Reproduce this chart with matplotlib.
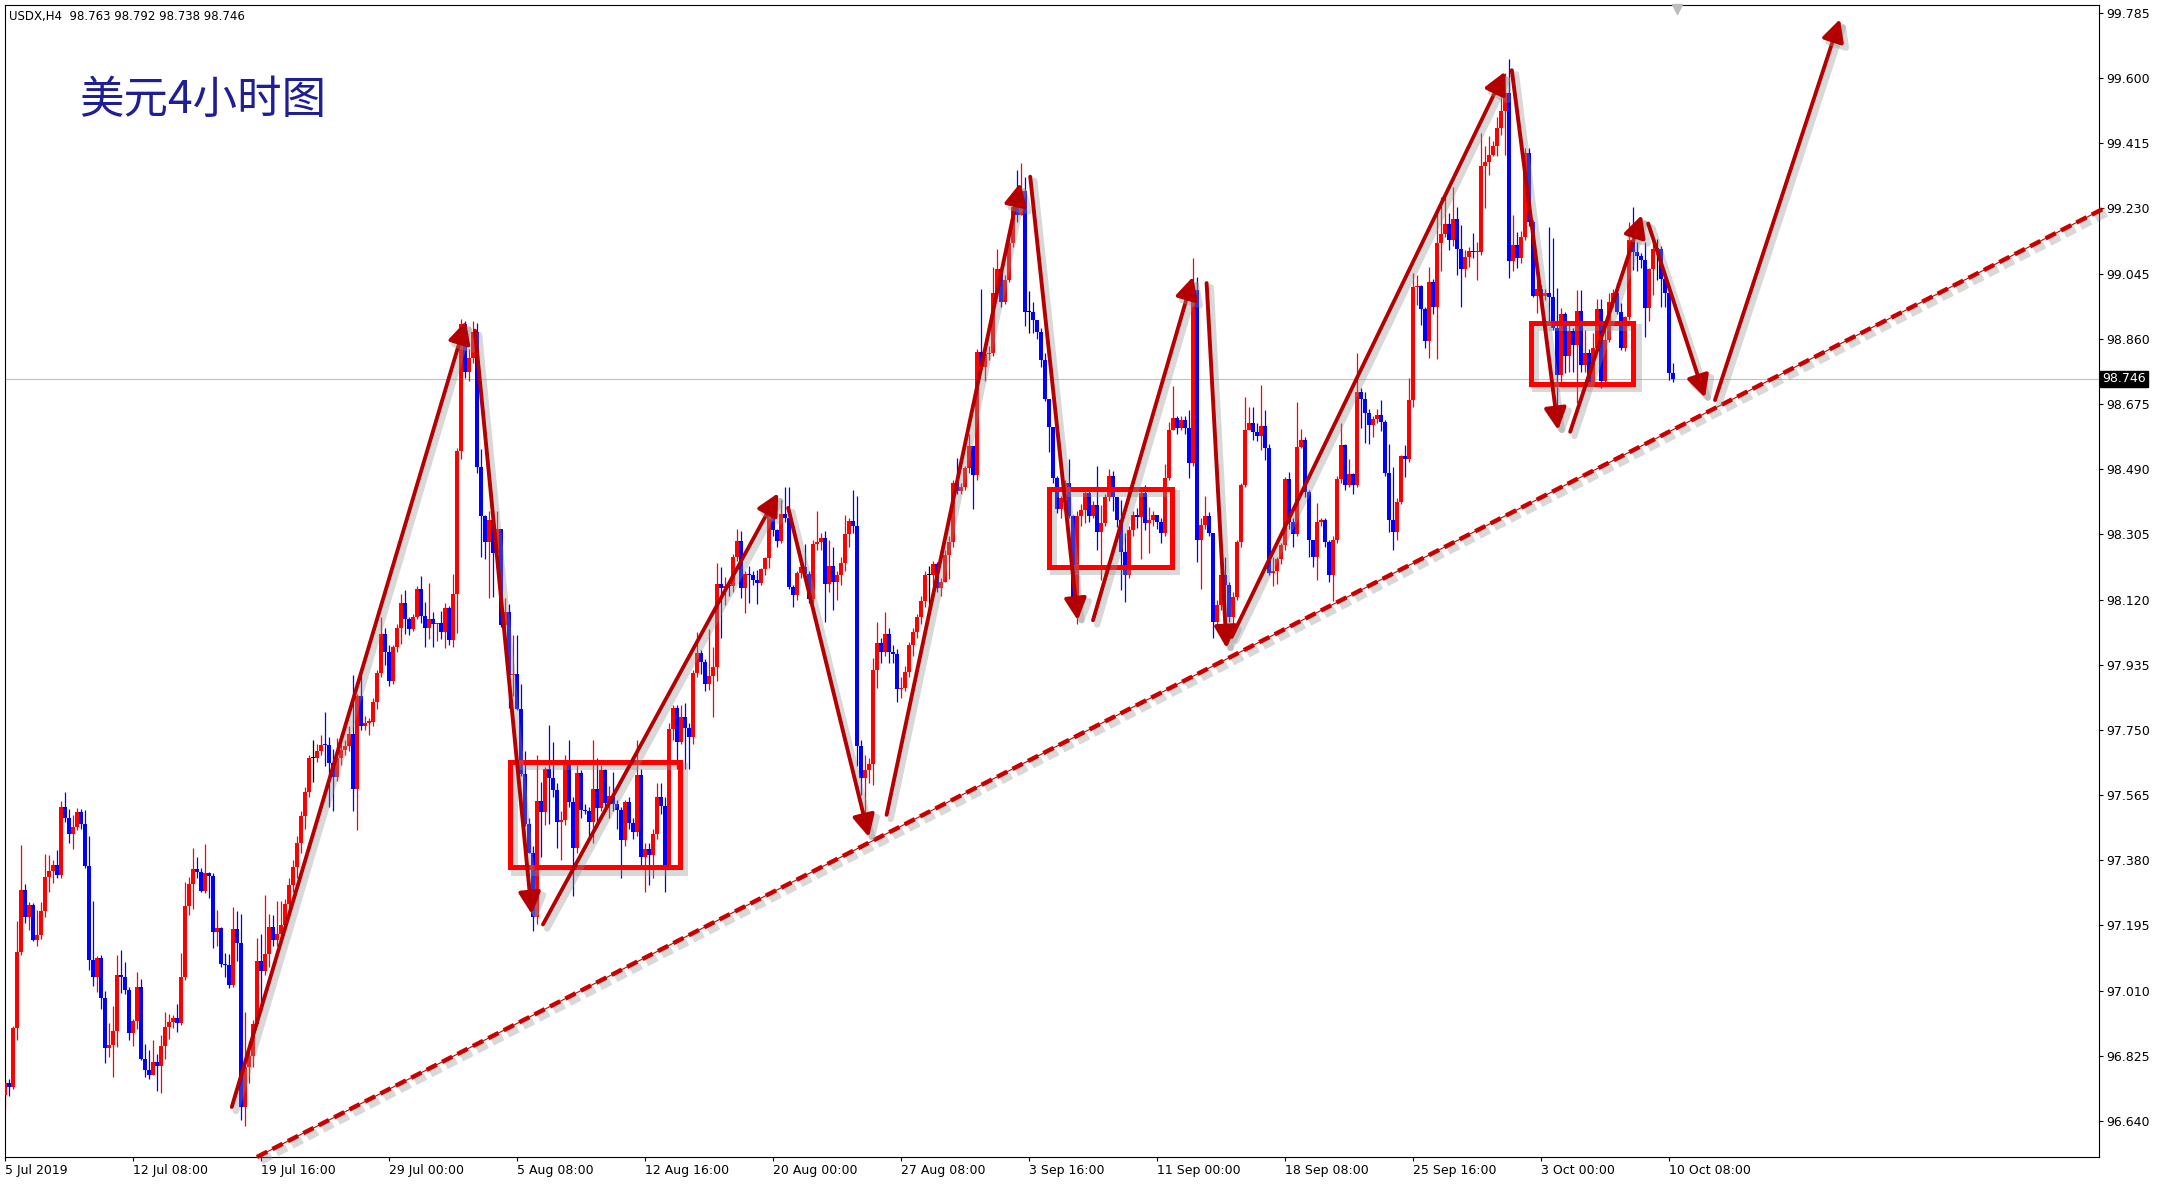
import matplotlib
matplotlib.use('Agg')
import matplotlib.pyplot as plt
import matplotlib.patches as patches
import matplotlib.patheffects as pe
import numpy as np

# USDX H4 bars, 5 Jul 2019 00:00 -> 10 Oct 2019 12:00 (bar index = 4h step, weekends skipped)
first_open = 96.714

closes = [
    96.749, 96.737, 96.903, 97.121, 97.295, 97.220, 97.253, 97.155, 97.168, 97.236,
    97.332, 97.350, 97.366, 97.338, 97.532, 97.499, 97.456, 97.475, 97.516, 97.482,
    97.364, 97.097, 97.048, 97.102, 96.988, 96.846, 96.856, 96.896, 97.054, 97.050,
    97.012, 96.891, 96.925, 97.021, 96.815, 96.786, 96.770, 96.808, 96.796, 96.853,
    96.906, 96.920, 96.933, 96.919, 97.048, 97.250, 97.314, 97.354, 97.347, 97.294,
    97.345, 97.335, 97.177, 97.187, 97.087, 97.083, 97.026, 97.184, 97.144, 96.679,
    96.792, 96.825, 96.915, 97.095, 97.065, 97.115, 97.190, 97.155, 97.170, 97.197,
    97.257, 97.310, 97.360, 97.430, 97.505, 97.573, 97.671, 97.671, 97.690, 97.708,
    97.707, 97.656, 97.615, 97.671, 97.693, 97.705, 97.738, 97.581, 97.846, 97.761,
    97.771, 97.773, 97.829, 97.911, 98.021, 97.971, 97.888, 97.986, 98.039, 98.111,
    98.066, 98.036, 98.069, 98.151, 98.072, 98.039, 98.064, 98.051, 98.054, 98.027,
    98.095, 98.006, 98.136, 98.542, 98.902, 98.767, 98.805, 98.880, 98.497, 98.358,
    98.284, 98.347, 98.252, 98.321, 98.049, 98.084, 97.907, 97.910, 97.809, 97.626,
    97.482, 97.401, 97.219, 97.548, 97.517, 97.638, 97.613, 97.580, 97.490, 97.495,
    97.650, 97.545, 97.416, 97.627, 97.522, 97.520, 97.490, 97.582, 97.528, 97.636,
    97.543, 97.563, 97.540, 97.522, 97.439, 97.545, 97.487, 97.459, 97.621, 97.389,
    97.412, 97.395, 97.455, 97.559, 97.534, 97.366, 97.752, 97.812, 97.717, 97.788,
    97.755, 97.731, 97.911, 97.967, 97.944, 97.880, 97.903, 97.928, 98.164, 98.152,
    98.158, 98.157, 98.240, 98.287, 98.154, 98.192, 98.190, 98.174, 98.168, 98.206,
    98.237, 98.360, 98.317, 98.287, 98.363, 98.350, 98.155, 98.133, 98.194, 98.211,
    98.192, 98.121, 98.278, 98.282, 98.296, 98.164, 98.215, 98.171, 98.190, 98.223,
    98.306, 98.343, 98.329, 97.704, 97.613, 97.636, 97.653, 97.920, 97.998, 97.971,
    98.021, 97.970, 97.965, 97.865, 97.870, 97.915, 97.990, 98.027, 98.070, 98.115,
    98.190, 98.190, 98.220, 98.152, 98.171, 98.246, 98.283, 98.452, 98.427, 98.440,
    98.493, 98.556, 98.473, 98.823, 98.780, 98.818, 98.820, 98.989, 99.058, 98.964,
    99.027, 99.133, 99.233, 99.210, 99.280, 98.935, 98.935, 98.914, 98.880, 98.800,
    98.690, 98.610, 98.465, 98.377, 98.408, 98.452, 98.358, 98.115, 98.357, 98.374,
    98.421, 98.357, 98.388, 98.312, 98.336, 98.412, 98.470, 98.410, 98.347, 98.256,
    98.189, 98.317, 98.360, 98.355, 98.421, 98.336, 98.347, 98.360, 98.341, 98.308,
    98.464, 98.601, 98.634, 98.606, 98.629, 98.606, 98.508, 98.998, 98.289, 98.331,
    98.357, 98.308, 98.057, 98.104, 98.189, 98.161, 98.071, 98.128, 98.284, 98.445,
    98.601, 98.621, 98.596, 98.584, 98.612, 98.549, 98.194, 98.201, 98.236, 98.274,
    98.463, 98.341, 98.307, 98.553, 98.572, 98.426, 98.288, 98.241, 98.340, 98.345,
    98.284, 98.189, 98.288, 98.463, 98.558, 98.445, 98.477, 98.445, 98.709, 98.690,
    98.650, 98.615, 98.632, 98.644, 98.625, 98.480, 98.346, 98.313, 98.398, 98.526,
    98.518, 98.686, 99.008, 99.010, 98.944, 98.855, 99.022, 98.951, 99.133, 99.157,
    99.186, 99.140, 99.199, 99.114, 99.057, 99.091, 99.110, 99.106, 99.107, 99.350,
    99.363, 99.382, 99.407, 99.457, 99.507, 99.558, 99.082, 99.126, 99.089, 99.150,
    99.386, 99.190, 98.982, 99.000, 98.980, 98.990, 98.978, 98.890, 98.757, 98.930,
    98.811, 98.883, 98.843, 98.940, 98.786, 98.819, 98.738, 98.833, 98.944, 98.739,
    98.857, 98.965, 98.990, 98.937, 98.833, 98.923, 99.140, 99.107, 99.095, 99.084,
    98.946, 99.057, 99.114, 99.114, 99.029, 98.990, 98.763, 98.746,
]

highs = [
    96.760, 96.759, 96.910, 97.208, 97.423, 97.314, 97.262, 97.260, 97.239, 97.262,
    97.398, 97.395, 97.382, 97.409, 97.548, 97.573, 97.525, 97.508, 97.527, 97.525,
    97.522, 97.449, 97.264, 97.108, 97.110, 97.009, 96.919, 96.966, 97.111, 97.125,
    97.092, 97.020, 96.930, 97.064, 97.043, 96.860, 96.843, 96.870, 96.830, 96.884,
    96.950, 96.945, 96.940, 96.972, 97.118, 97.319, 97.333, 97.414, 97.388, 97.357,
    97.426, 97.347, 97.343, 97.239, 97.190, 97.116, 97.114, 97.248, 97.236, 97.227,
    96.950, 96.867, 96.927, 97.160, 97.171, 97.281, 97.227, 97.224, 97.265, 97.265,
    97.270, 97.330, 97.380, 97.450, 97.520, 97.588, 97.680, 97.720, 97.710, 97.735,
    97.801, 97.729, 97.696, 97.726, 97.710, 97.720, 97.760, 97.906, 97.851, 97.906,
    97.790, 97.783, 97.840, 97.920, 98.069, 98.039, 97.991, 97.990, 98.050, 98.136,
    98.147, 98.070, 98.080, 98.159, 98.186, 98.114, 98.166, 98.084, 98.054, 98.087,
    98.111, 98.102, 98.192, 98.550, 98.917, 98.910, 98.830, 98.910, 98.906, 98.547,
    98.360, 98.370, 98.327, 98.370, 98.321, 98.125, 98.107, 98.020, 98.020, 97.881,
    97.690, 97.500, 97.420, 97.679, 97.601, 97.646, 97.765, 97.716, 97.600, 97.520,
    97.680, 97.722, 97.560, 97.650, 97.636, 97.540, 97.530, 97.720, 97.670, 97.650,
    97.640, 97.590, 97.630, 97.550, 97.530, 97.550, 97.560, 97.500, 97.720, 97.640,
    97.430, 97.430, 97.470, 97.600, 97.600, 97.560, 97.770, 97.820, 97.820, 97.821,
    97.826, 97.770, 97.920, 98.029, 97.976, 97.950, 98.036, 97.984, 98.223, 98.213,
    98.185, 98.170, 98.250, 98.319, 98.315, 98.200, 98.215, 98.200, 98.204, 98.210,
    98.240, 98.374, 98.360, 98.320, 98.402, 98.438, 98.440, 98.160, 98.200, 98.220,
    98.278, 98.200, 98.290, 98.370, 98.310, 98.315, 98.288, 98.270, 98.200, 98.240,
    98.360, 98.350, 98.431, 98.414, 97.720, 97.680, 97.670, 97.953, 98.057, 98.010,
    98.084, 98.040, 97.990, 97.980, 97.900, 97.930, 98.000, 98.040, 98.080, 98.130,
    98.200, 98.215, 98.230, 98.226, 98.180, 98.260, 98.300, 98.460, 98.521, 98.450,
    98.500, 98.590, 98.556, 98.830, 99.002, 98.840, 98.840, 99.064, 99.114, 99.064,
    99.040, 99.145, 99.270, 99.339, 99.360, 99.320, 98.995, 98.964, 98.910, 98.890,
    98.820, 98.690, 98.610, 98.470, 98.415, 98.460, 98.520, 98.360, 98.370, 98.390,
    98.430, 98.430, 98.400, 98.499, 98.388, 98.420, 98.489, 98.485, 98.410, 98.402,
    98.308, 98.330, 98.370, 98.379, 98.440, 98.445, 98.383, 98.370, 98.360, 98.350,
    98.504, 98.624, 98.726, 98.640, 98.640, 98.640, 98.657, 99.088, 99.036, 98.350,
    98.414, 98.369, 98.310, 98.120, 98.200, 98.241, 98.170, 98.140, 98.290, 98.450,
    98.695, 98.667, 98.667, 98.620, 98.728, 98.659, 98.560, 98.241, 98.241, 98.280,
    98.468, 98.482, 98.350, 98.681, 98.605, 98.580, 98.430, 98.290, 98.394, 98.350,
    98.350, 98.290, 98.300, 98.470, 98.620, 98.560, 98.520, 98.480, 98.820, 98.720,
    98.710, 98.660, 98.640, 98.660, 98.686, 98.630, 98.560, 98.497, 98.407, 98.530,
    98.559, 98.748, 99.046, 99.041, 99.013, 98.950, 99.065, 99.030, 99.221, 99.263,
    99.263, 99.216, 99.292, 99.235, 99.183, 99.112, 99.120, 99.159, 99.136, 99.443,
    99.407, 99.434, 99.420, 99.490, 99.547, 99.613, 99.653, 99.211, 99.164, 99.167,
    99.400, 99.400, 99.197, 99.032, 99.013, 99.000, 99.178, 99.145, 99.003, 98.946,
    98.937, 98.902, 98.890, 98.997, 98.997, 98.885, 98.830, 98.876, 98.972, 98.972,
    98.894, 98.991, 99.000, 99.017, 98.961, 98.925, 99.192, 99.235, 99.136, 99.103,
    99.136, 99.060, 99.133, 99.142, 99.122, 99.036, 98.999, 98.792,
]

lows = [
    96.676, 96.711, 96.730, 96.870, 97.110, 97.203, 97.182, 97.150, 97.137, 97.158,
    97.220, 97.291, 97.316, 97.330, 97.330, 97.490, 97.430, 97.411, 97.466, 97.468,
    97.357, 97.068, 97.024, 97.007, 96.957, 96.805, 96.822, 96.766, 96.851, 97.002,
    97.000, 96.870, 96.853, 96.900, 96.813, 96.766, 96.759, 96.770, 96.726, 96.720,
    96.815, 96.874, 96.903, 96.893, 96.912, 97.040, 97.225, 97.243, 97.330, 97.291,
    97.286, 97.272, 97.132, 97.137, 97.078, 97.049, 97.019, 97.021, 97.094, 96.642,
    96.627, 96.747, 96.792, 96.910, 96.949, 97.055, 97.076, 97.137, 97.137, 97.166,
    97.190, 97.240, 97.290, 97.330, 97.400, 97.468, 97.560, 97.603, 97.660, 97.678,
    97.648, 97.531, 97.520, 97.606, 97.650, 97.680, 97.690, 97.520, 97.465, 97.750,
    97.750, 97.735, 97.760, 97.810, 97.900, 97.934, 97.876, 97.880, 97.970, 97.994,
    98.021, 98.020, 98.030, 98.064, 98.054, 97.986, 98.009, 97.986, 98.001, 98.009,
    97.982, 97.991, 97.986, 98.024, 98.520, 98.750, 98.740, 98.790, 98.480, 98.240,
    98.235, 98.125, 98.127, 98.210, 98.043, 98.043, 97.812, 97.847, 97.806, 97.620,
    97.476, 97.400, 97.180, 97.200, 97.389, 97.480, 97.482, 97.560, 97.415, 97.380,
    97.480, 97.530, 97.279, 97.400, 97.500, 97.510, 97.450, 97.430, 97.480, 97.520,
    97.520, 97.500, 97.520, 97.470, 97.330, 97.420, 97.470, 97.440, 97.450, 97.360,
    97.290, 97.310, 97.330, 97.440, 97.510, 97.290, 97.360, 97.720, 97.638, 97.710,
    97.638, 97.640, 97.710, 97.901, 97.910, 97.860, 97.863, 97.788, 97.890, 98.010,
    98.105, 98.130, 98.140, 98.230, 98.123, 98.081, 98.109, 98.160, 98.107, 98.160,
    98.190, 98.209, 98.300, 98.270, 98.280, 98.340, 98.150, 98.098, 98.120, 98.180,
    98.180, 98.110, 98.110, 98.260, 98.260, 98.055, 98.140, 98.090, 98.120, 98.160,
    98.200, 98.270, 98.310, 97.648, 97.565, 97.485, 97.600, 97.594, 97.868, 97.940,
    97.960, 97.940, 97.940, 97.830, 97.840, 97.860, 97.900, 97.960, 98.010, 98.050,
    98.100, 98.096, 98.160, 98.140, 98.130, 98.170, 98.177, 98.270, 98.420, 98.420,
    98.430, 98.480, 98.377, 98.460, 98.770, 98.740, 98.800, 98.810, 98.980, 98.950,
    98.960, 99.020, 99.120, 99.190, 99.210, 98.895, 98.877, 98.877, 98.860, 98.780,
    98.683, 98.540, 98.450, 98.365, 98.350, 98.380, 98.350, 98.100, 98.050, 98.330,
    98.336, 98.340, 98.350, 98.260, 98.175, 98.330, 98.400, 98.372, 98.326, 98.147,
    98.114, 98.180, 98.300, 98.322, 98.234, 98.317, 98.251, 98.330, 98.320, 98.280,
    98.300, 98.460, 98.606, 98.590, 98.600, 98.590, 98.464, 98.500, 98.227, 98.151,
    98.320, 98.300, 98.010, 98.050, 98.090, 98.043, 98.055, 98.050, 98.120, 98.270,
    98.440, 98.600, 98.572, 98.570, 98.544, 98.515, 98.189, 98.158, 98.165, 98.220,
    98.260, 98.320, 98.270, 98.300, 98.550, 98.410, 98.240, 98.213, 98.175, 98.330,
    98.270, 98.170, 98.115, 98.280, 98.450, 98.430, 98.440, 98.420, 98.440, 98.606,
    98.564, 98.560, 98.580, 98.620, 98.597, 98.470, 98.313, 98.261, 98.290, 98.390,
    98.469, 98.510, 98.667, 98.956, 98.899, 98.833, 98.805, 98.930, 98.802, 99.051,
    99.150, 99.112, 99.122, 99.041, 98.951, 99.036, 99.065, 99.090, 99.027, 99.098,
    99.230, 99.325, 99.380, 99.379, 99.438, 99.382, 99.032, 99.051, 99.060, 99.074,
    99.140, 99.180, 98.978, 98.932, 98.942, 98.970, 98.902, 98.885, 98.630, 98.738,
    98.762, 98.767, 98.767, 98.677, 98.767, 98.767, 98.738, 98.738, 98.820, 98.719,
    98.730, 98.850, 98.950, 98.930, 98.828, 98.824, 98.913, 99.055, 99.051, 99.060,
    98.866, 98.909, 98.984, 99.027, 98.951, 98.951, 98.743, 98.738,
]

tick_bars = [0, 32, 64, 96, 128, 160, 192, 224, 256, 288, 320, 352, 384, 416]
tick_labels = ['5 Jul 2019', '12 Jul 08:00', '19 Jul 16:00', '29 Jul 00:00',
               '5 Aug 08:00', '12 Aug 16:00', '20 Aug 00:00', '27 Aug 08:00',
               '3 Sep 16:00', '11 Sep 00:00', '18 Sep 08:00', '25 Sep 16:00',
               '3 Oct 00:00', '10 Oct 08:00']
price_ticks = [99.785, 99.600, 99.415, 99.230, 99.045, 98.860, 98.675, 98.490,
               98.305, 98.120, 97.935, 97.750, 97.565, 97.380, 97.195, 97.010,
               96.825, 96.640]
last_price = 98.746

# hand drawn analysis: arrows (start bar, start price) -> (end bar, end price)
arrows = [
    ((56.7, 96.680), (115.2, 98.910)),
    ((117.5, 98.883), (131.7, 97.227)),
    ((134.5, 97.198), (193.3, 98.422)),
    ((195.8, 98.380), (216.0, 97.446)),
    ((220.4, 97.509), (253.8, 99.302)),
    ((256.3, 99.320), (268.2, 98.061)),
    ((272.0, 98.061), (297.0, 99.036)),
    ((300.4, 99.018), (305.4, 97.982)),
    ((306.7, 98.014), (375.0, 99.618)),
    ((376.7, 99.622), (388.3, 98.601)),
    ((391.3, 98.596), (409.2, 99.211)),
    ((410.8, 99.187), (425.0, 98.693)),
    ((427.5, 98.686), (458.75, 99.767)),
]
# consolidation boxes: (bar from, bar to, price low, price high)
boxes = [
    (126.25, 168.75, 97.360, 97.658),
    (261.0, 291.7, 98.213, 98.433),
    (381.5, 407.1, 98.731, 98.905),
]
trend_pts = ((63.0, 96.538), (524.75, 99.230))

n = min(len(closes), len(highs), len(lows))
c = np.array(closes[:n])
o = np.array([first_open] + closes[:n - 1])
h = np.maximum(np.array(highs[:n]), np.maximum(o, c))
l = np.minimum(np.array(lows[:n]), np.minimum(o, c))
x = np.arange(n)
colors = np.where(c > o, '#ff0000', np.where(c < o, '#0000ff', '#000000'))

fig = plt.figure(figsize=(21.65, 11.86), dpi=100)
ax = fig.add_axes([0.00208, 0.02445, 0.96744, 0.97159])

ax.axhline(last_price, color='#c0c0c0', lw=0.8, zorder=1)
ax.vlines(x, l, h, colors=colors, lw=0.9, zorder=2)
ax.bar(x, np.maximum(np.abs(c - o), 0.003), bottom=np.minimum(o, c),
       width=0.8, color=colors, linewidth=0, zorder=3)


def shadow(width):
    return [pe.SimpleLineShadow(offset=(3, -3), shadow_color='#909090', alpha=0.35, linewidth=width),
            pe.Normal()]


# trend line (thin solid + thick dashes)
(tx0, ty0), (tx1, ty1) = trend_pts
ax.plot([tx0, tx1], [ty0, ty1], color='#c80000', lw=3.2, dashes=(2.6, 1.3),
        clip_on=False, zorder=5, path_effects=shadow(5))
ax.plot([tx0, tx1], [ty0, ty1], color='#c80000', lw=0.8, clip_on=False, zorder=5)

for (bx0, bx1, by0, by1) in boxes:
    ax.add_patch(patches.Rectangle((bx0, by0), bx1 - bx0, by1 - by0, fill=False,
                                   ec='#ff0000', lw=3.6, zorder=6, path_effects=shadow(5)))

for (x0, y0), (x1, y1) in arrows:
    ax.annotate('', xy=(x1, y1), xytext=(x0, y0), zorder=7,
                arrowprops=dict(arrowstyle='-|>,head_length=0.55,head_width=0.28',
                                color='#b40000', lw=2.8, shrinkA=0, shrinkB=0,
                                mutation_scale=24, path_effects=shadow(4.5)))

ax.set_xlim(-0.125, 523.5)
ax.set_ylim(96.538, 99.808)

ax.yaxis.tick_right()
ax.set_yticks(price_ticks)
ax.set_yticklabels([f'{p:.3f}' for p in price_ticks])
ax.set_xticks(tick_bars)
ax.set_xticklabels(tick_labels)
for lbl in ax.get_xticklabels():
    lbl.set_horizontalalignment('left')
ax.tick_params(axis='both', direction='out', length=3, width=0.8, pad=2,
               labelsize=9, colors='black')
for sp in ax.spines.values():
    sp.set_color('black')
    sp.set_linewidth(0.8)

# last price tag
ax.text(1.0015, last_price, f'{last_price:.3f}', transform=ax.get_yaxis_transform(),
        ha='left', va='center', fontsize=9, color='white', clip_on=False,
        bbox=dict(boxstyle='square,pad=0.15', fc='black', ec='black'))

# chart shift marker
ax.plot([418], [0.996], marker='v', ms=7, color='#bdbdbd',
        transform=ax.get_xaxis_transform(), clip_on=False, zorder=8)

ax.text(0.00215, 0.990, 'USDX,H4  98.763 98.792 98.738 98.746', transform=ax.transAxes,
        ha='left', va='center', fontsize=8.5, color='black')
ax.text(0.0356, 0.917, '美元4小时图', transform=ax.transAxes, ha='left', va='center',
        fontsize=32, color='#1e1e96', family=['Noto Sans CJK SC', 'DejaVu Sans'])

fig.savefig('out.png', dpi=100, facecolor='white')
